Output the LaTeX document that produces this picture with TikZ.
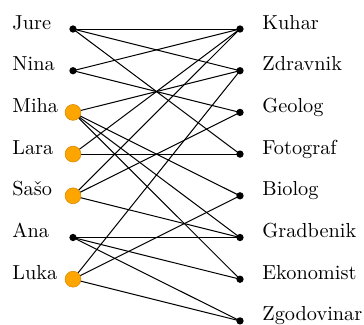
\documentclass[tikz,border=0pt]{standalone}
\usetikzlibrary{backgrounds}
\definecolor{nodeorange}{RGB}{255,165,0}
\begin{document}
\begin{tikzpicture}[x=0.4926pt,y=-0.4926pt,
  bdot/.style={circle,fill=black,inner sep=0pt,minimum size=3.6pt},
  odot/.style={circle,fill=nodeorange,draw=nodeorange!85!black,line width=0.3pt,inner sep=0pt,minimum size=7.8pt},
  lbl/.style={anchor=base west,inner sep=0pt,font=\fontsize{10}{12}\selectfont},
  edge/.style={line width=0.5pt,black}]
\useasboundingbox (0,0) rectangle (364,324);
% left
\node[bdot] (jure) at (73,29) {};
\node[bdot] (nina) at (73,70.7) {};
\node[odot] (miha) at (73,112.4) {};
\node[odot] (lara) at (73,154.1) {};
\node[odot] (saso) at (73,195.8) {};
\node[bdot] (ana) at (73,237.5) {};
\node[odot] (luka) at (73,279.2) {};
% right
\node[bdot] (kuhar) at (240,29) {};
\node[bdot] (zdravnik) at (240,70.7) {};
\node[bdot] (geolog) at (240,112.4) {};
\node[bdot] (fotograf) at (240,154.1) {};
\node[bdot] (biolog) at (240,195.8) {};
\node[bdot] (gradbenik) at (240,237.5) {};
\node[bdot] (ekonomist) at (240,279.2) {};
\node[bdot] (zgodovinar) at (240,320.9) {};
% labels
\node[lbl] (ljure) at (12,29) {Jure};
\node[lbl] (lnina) at (12,70.7) {Nina};
\node[lbl] (lmiha) at (12,112.4) {Miha};
\node[lbl] (llara) at (12,154.1) {Lara};
\node[lbl] (lsaso) at (12,195.8) {Sašo};
\node[lbl] (lana) at (12,237.5) {Ana};
\node[lbl] (lluka) at (12,279.2) {Luka};
\node[lbl] (lkuhar) at (262,29) {Kuhar};
\node[lbl] (lzdravnik) at (262,70.7) {Zdravnik};
\node[lbl] (lgeolog) at (262,112.4) {Geolog};
\node[lbl] (lfotograf) at (262,154.1) {Fotograf};
\node[lbl] (lbiolog) at (262,195.8) {Biolog};
\node[lbl] (lgradbenik) at (262,237.5) {Gradbenik};
\node[lbl] (lekonomist) at (262,279.2) {Ekonomist};
\node[lbl] (lzgodovinar) at (262,320.9) {Zgodovinar};
% edges
\begin{pgfonlayer}{background}
\foreach \a/\b in {jure/kuhar,jure/zdravnik,jure/fotograf,
  nina/kuhar,nina/geolog,
  miha/zdravnik,miha/biolog,miha/gradbenik,miha/ekonomist,
  lara/kuhar,lara/fotograf,
  saso/kuhar,saso/geolog,saso/gradbenik,
  ana/gradbenik,ana/ekonomist,ana/zgodovinar,
  luka/zdravnik,luka/biolog,luka/zgodovinar}
  \draw[edge] (\a.center) -- (\b.center);
\end{pgfonlayer}
\end{tikzpicture}
\end{document}
